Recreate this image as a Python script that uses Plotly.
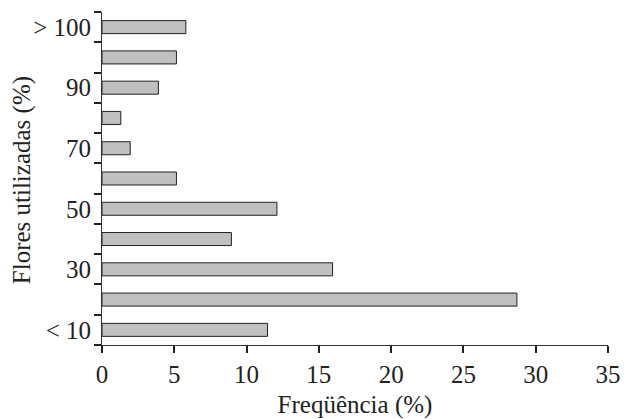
import plotly.graph_objects as go

categories = ["< 10", "10-20", "30", "30-40", "50", "50-60", "70", "70-80", "90", "90-100", "> 100"]
tick_labels = ["< 10", "", "30", "", "50", "", "70", "", "90", "", "> 100"]
frequencia = [11.45, 28.7, 15.95, 8.95, 12.1, 5.15, 1.95, 1.3, 3.9, 5.15, 5.8]

fig = go.Figure(go.Bar(
    x=frequencia, y=categories, orientation="h",
    marker=dict(color="#c0c0c0", line=dict(color="#222222", width=1)),
))

font = dict(family="Liberation Serif", size=25, color="#222222")

fig.update_layout(
    width=624, height=419,
    margin=dict(l=102, r=16, t=12, b=74),
    paper_bgcolor="white", plot_bgcolor="white",
    bargap=0.57, showlegend=False,
    font=font,
    xaxis=dict(
        range=[0, 35], tickmode="array", tickvals=[0, 5, 10, 15, 20, 25, 30, 35],
        ticks="outside", ticklen=7, tickwidth=1.5, tickcolor="#222222",
        showline=True, linecolor="#333333", linewidth=1,
        showgrid=False, zeroline=False, automargin=False,
        title=dict(text="Freqüência (%)", font=font, standoff=8),
    ),
    yaxis=dict(
        type="category", categoryorder="array", categoryarray=categories,
        tickmode="array", tickvals=categories, ticktext=tick_labels, tickson="boundaries",
        ticks="outside", ticklen=7, tickwidth=1.5, tickcolor="#222222",
        ticklabelstandoff=5,
        showline=True, linecolor="#333333", linewidth=1,
        showgrid=False, zeroline=False, range=[-0.5, 10.5], automargin=False,
    ),
    annotations=[dict(
        text="Flores utilizadas (%)", textangle=-90, showarrow=False,
        xref="paper", yref="paper", x=-0.158, y=0.495,
        xanchor="center", yanchor="middle", font=font,
    )],
)

fig.write_html("out.html", post_script="document.body.style.margin='0';",
               config={"displayModeBar": False})
